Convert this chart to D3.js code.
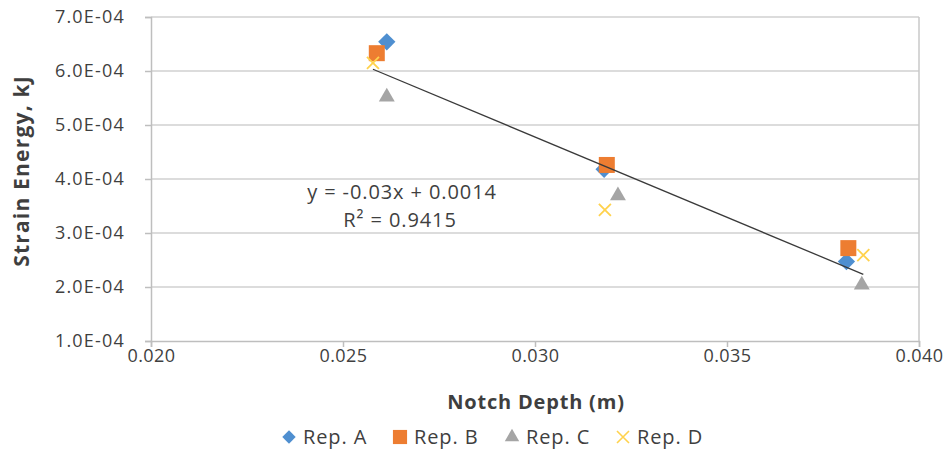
<!DOCTYPE html>
<html><head><meta charset="utf-8">
<script src="https://cdn.jsdelivr.net/npm/d3@7"></script>
<style>body{margin:0;background:#fff;} svg{display:block;}</style>
</head><body>
<svg id="c" width="949" height="450"></svg>
<script>
const seriesNames = ["Rep. A", "Rep. B", "Rep. C", "Rep. D"];
const repA = [[0.02614, 6.54e-4], [0.0318, 4.18e-4], [0.03811, 2.47e-4]];
const repB = [[0.02588, 6.33e-4], [0.03187, 4.26e-4], [0.03816, 2.72e-4]];
const repC = [[0.02614, 5.52e-4], [0.03216, 3.69e-4], [0.03851, 2.04e-4]];
const repD = [[0.02578, 6.15e-4], [0.03182, 3.43e-4], [0.03855, 2.59e-4]];
const xTicks = [0.020, 0.025, 0.030, 0.035, 0.040];
const yTicks = [1e-4, 2e-4, 3e-4, 4e-4, 5e-4, 6e-4, 7e-4];
const eqText = "y = -0.03x + 0.0014";
const r2Text = "R\u00B2 = 0.9415";
const colors = ["#4F8FD0", "#ED7D31", "#A5A5A5", "#FFD24D"];

const all = [repA, repB, repC, repD];
const svg = d3.select("#c");
const L = 151, R = 919, T = 17, B = 341;
const x = d3.scaleLinear().domain([0.020, 0.040]).range([L, R]);
const y = d3.scaleLinear().domain([1e-4, 7e-4]).range([B, T]);
const font = "'Open Sans', sans-serif";
const txt = "#3F3F3F";

// gridlines
svg.append("g").selectAll("line").data(yTicks.slice(1)).join("line")
  .attr("x1", L).attr("x2", R).attr("y1", d => y(d)).attr("y2", d => y(d))
  .attr("stroke", "#D0D0D0").attr("stroke-width", 1.5);
// right border
svg.append("line").attr("x1", R).attr("x2", R).attr("y1", T).attr("y2", B)
  .attr("stroke", "#C8C8C8").attr("stroke-width", 1.5);

// axes
const xAxis = d3.axisBottom(x).tickValues(xTicks).tickFormat(d3.format(".3f")).tickSize(6).tickPadding(4);
const gx = svg.append("g").attr("transform", `translate(0,${B})`).call(xAxis);
const yAxis = d3.axisLeft(y).tickValues(yTicks).tickFormat(d => d.toExponential(1).replace("e-", "E-0")).tickSize(6).tickPadding(20);
const gy = svg.append("g").attr("transform", `translate(${L},0)`).call(yAxis);
[gx, gy].forEach(g => {
  g.select(".domain").attr("stroke", "#BEBEBE").attr("stroke-width", 1.5);
  g.selectAll(".tick line").attr("stroke", "#BEBEBE").attr("stroke-width", 1.5);
  g.selectAll("text").attr("fill", txt).attr("font-family", font).attr("font-size", 18);
});
gy.selectAll("text").attr("letter-spacing", 1.2);
gx.selectAll("text").attr("dy", "0.6em").attr("letter-spacing", 0.4);

// markers
const symPath = [
  d3.symbol(d3.symbolSquare, 150)(),
  d3.symbol(d3.symbolSquare, 256)(),
  d3.symbol(d3.symbolTriangle, 110)()
];
all.forEach((data, i) => {
  const g = svg.append("g");
  if (i < 3) {
    g.selectAll("path").data(data).join("path")
      .attr("transform", d => `translate(${x(d[0])},${y(d[1])})` + (i === 0 ? " rotate(45)" : ""))
      .attr("d", symPath[i])
      .attr("fill", colors[i]);
  } else {
    const s = 6;
    g.selectAll("path").data(data).join("path")
      .attr("transform", d => `translate(${x(d[0])},${y(d[1])})`)
      .attr("d", `M${-s},${-s}L${s},${s}M${-s},${s}L${s},${-s}`)
      .attr("stroke", colors[i]).attr("stroke-width", 1.8).attr("fill", "none");
  }
});

// linear trendline (least squares over all points)
const pts = all.flat();
const mx = d3.mean(pts, d => d[0]), my = d3.mean(pts, d => d[1]);
const slope = d3.sum(pts, d => (d[0] - mx) * (d[1] - my)) / d3.sum(pts, d => (d[0] - mx) ** 2);
const icpt = my - slope * mx;
const [x0, x1] = d3.extent(pts, d => d[0]);
svg.append("line")
  .attr("x1", x(x0)).attr("y1", y(slope * x0 + icpt))
  .attr("x2", x(x1)).attr("y2", y(slope * x1 + icpt))
  .attr("stroke", "#3A3A3A").attr("stroke-width", 1.3);

// equation
svg.append("text").attr("x", 402).attr("y", 199).attr("text-anchor", "middle")
  .attr("font-family", font).attr("font-size", 20).attr("letter-spacing", 0.9).attr("fill", txt).text(eqText);
svg.append("text").attr("x", 400).attr("y", 227).attr("text-anchor", "middle")
  .attr("font-family", font).attr("font-size", 20).attr("letter-spacing", 0.9).attr("fill", txt).text(r2Text);

// axis titles
svg.append("text").attr("x", 536).attr("y", 409).attr("text-anchor", "middle")
  .attr("font-family", font).attr("font-weight", "bold").attr("font-size", 20).attr("letter-spacing", 0.8).attr("fill", txt)
  .text("Notch Depth (m)");
svg.append("text").attr("transform", `translate(29,171) rotate(-90)`).attr("text-anchor", "middle")
  .attr("font-family", font).attr("font-weight", "bold").attr("font-size", 21).attr("letter-spacing", 1.2).attr("fill", txt)
  .text("Strain Energy, kJ");

// legend
const legX = [289, 400, 512, 623];
const legY = 437;
const legPath = [
  d3.symbol(d3.symbolSquare, 90)(),
  d3.symbol(d3.symbolSquare, 200)(),
  d3.symbol(d3.symbolTriangle, 90)()
];
const lg = svg.append("g");
seriesNames.forEach((name, i) => {
  const cx = legX[i];
  if (i < 3) {
    lg.append("path").attr("transform", `translate(${cx},${legY})` + (i === 0 ? " rotate(45)" : ""))
      .attr("d", legPath[i]).attr("fill", colors[i]);
  } else {
    const s = 6;
    lg.append("path").attr("transform", `translate(${cx},${legY})`)
      .attr("d", `M${-s},${-s}L${s},${s}M${-s},${s}L${s},${-s}`)
      .attr("stroke", colors[i]).attr("stroke-width", 1.6);
  }
  lg.append("text").attr("x", cx + 14).attr("y", legY + 7)
    .attr("font-family", font).attr("font-size", 20).attr("letter-spacing", 0.9).attr("fill", txt).text(name);
});
</script>
</body></html>
